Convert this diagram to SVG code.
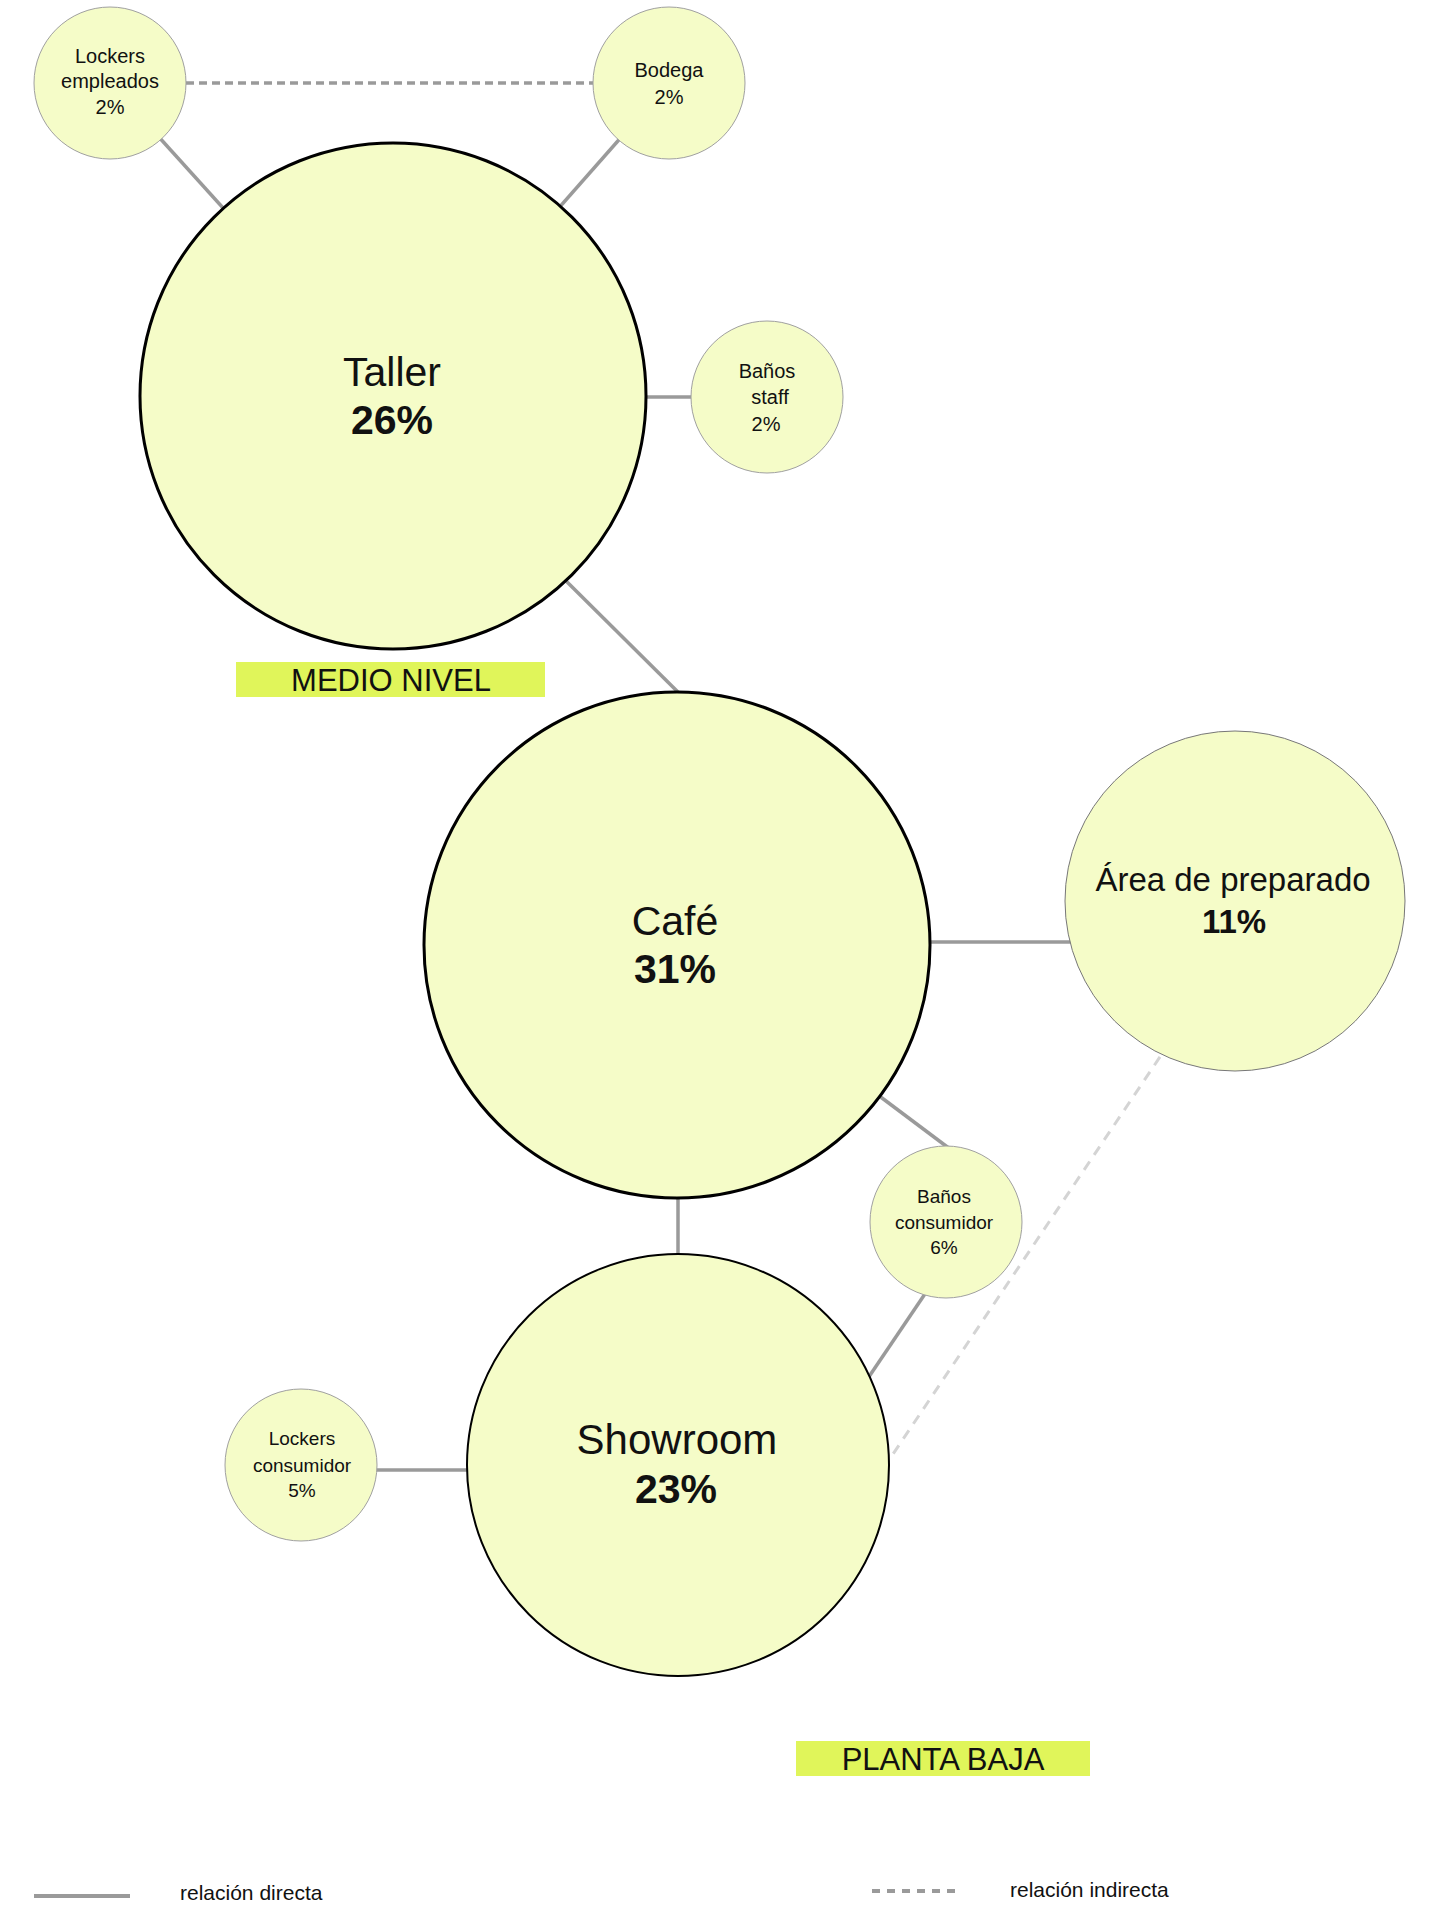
<svg xmlns="http://www.w3.org/2000/svg" width="1430" height="1910" viewBox="0 0 1430 1910">
<style>
.big{fill:#f5fcc8;stroke:#000;stroke-width:3}
.small{fill:#f5fcc8;stroke:#a0a0a0;stroke-width:1}
.mid{fill:#f5fcc8;stroke:#777;stroke-width:1}
.t{font-family:"Liberation Sans",Arial,sans-serif;fill:#111;text-anchor:middle}
.s{font-size:20px}
.tl{font-size:41px}
.tb{font-size:41px;font-weight:bold}
.d{stroke:#9a9a9a;stroke-width:3.5;fill:none}
.dash{stroke:#9a9a9a;stroke-width:3.5;stroke-dasharray:8 5;fill:none}
.dash2{stroke:#d4d4d4;stroke-width:3;stroke-dasharray:10 8;fill:none}
.lab{fill:#e0f55a}
.lt{font-family:"Liberation Sans",Arial,sans-serif;fill:#111;font-size:31px;text-anchor:middle}
.leg{font-family:"Liberation Sans",Arial,sans-serif;fill:#111;font-size:21px}
</style>
<rect width="1430" height="1910" fill="#fff"/>
<g id="connectors">
<line class="dash" x1="186" y1="83" x2="593" y2="83"/>
<line class="d" x1="110" y1="83" x2="393" y2="396"/>
<line class="d" x1="669" y1="83" x2="393" y2="396"/>
<line class="d" x1="600" y1="397" x2="720" y2="397"/>
<line class="d" x1="554" y1="569" x2="691" y2="705"/>
<line class="d" x1="900" y1="942" x2="1100" y2="942"/>
<line class="d" x1="866" y1="1086" x2="962" y2="1158"/>
<line class="d" x1="678" y1="1180" x2="678" y2="1270"/>
<line class="d" x1="931" y1="1285" x2="862" y2="1387"/>
<line class="d" x1="350" y1="1470" x2="490" y2="1470"/>
<line class="dash2" x1="1170" y1="1042" x2="885" y2="1466"/>
</g>
<g id="lockers-empleados">
<circle class="small" cx="110" cy="83" r="76"/>
<text class="t s" x="110" y="63">Lockers</text>
<text class="t s" x="110" y="88">empleados</text>
<text class="t s" x="110" y="114">2%</text>
</g>
<g id="bodega">
<circle class="small" cx="669" cy="83" r="76"/>
<text class="t s" x="669" y="77">Bodega</text>
<text class="t s" x="669" y="104">2%</text>
</g>
<g id="taller">
<circle class="big" cx="393" cy="396" r="253"/>
<text class="t tl" x="392" y="386">Taller</text>
<text class="t tb" x="392" y="434">26%</text>
</g>
<g id="banos-staff">
<circle class="small" cx="767" cy="397" r="76"/>
<text class="t s" x="767" y="378">Baños</text>
<text class="t s" x="770" y="404">staff</text>
<text class="t s" x="766" y="431">2%</text>
</g>
<g id="label-medio">
<rect class="lab" x="236" y="662" width="309" height="35"/>
<text class="lt" x="391" y="691">MEDIO NIVEL</text>
</g>
<g id="cafe">
<circle class="big" cx="677" cy="945" r="253"/>
<text class="t tl" x="675" y="935">Café</text>
<text class="t tb" x="675" y="983">31%</text>
</g>
<g id="area-preparado">
<circle class="mid" cx="1235" cy="901" r="170"/>
<text class="t" style="font-size:33px" x="1233" y="891">Área de preparado</text>
<text class="t" style="font-size:33px;font-weight:bold" x="1234" y="933">11%</text>
</g>
<g id="banos-consumidor">
<circle class="small" cx="946" cy="1222" r="76"/>
<text class="t" style="font-size:19px" x="944" y="1203">Baños</text>
<text class="t" style="font-size:19px" x="944" y="1229">consumidor</text>
<text class="t" style="font-size:19px" x="944" y="1254">6%</text>
</g>
<g id="showroom">
<circle class="big" cx="678" cy="1465" r="211" style="stroke-width:2"/>
<text class="t" style="font-size:42px" x="677" y="1454">Showroom</text>
<text class="t tb" x="676" y="1503">23%</text>
</g>
<g id="lockers-consumidor">
<circle class="small" cx="301" cy="1465" r="76"/>
<text class="t" style="font-size:19px" x="302" y="1445">Lockers</text>
<text class="t" style="font-size:19px" x="302" y="1472">consumidor</text>
<text class="t" style="font-size:19px" x="302" y="1497">5%</text>
</g>
<g id="label-planta">
<rect class="lab" x="796" y="1741" width="294" height="35"/>
<text class="lt" x="943" y="1770">PLANTA BAJA</text>
</g>
<g id="legend">
<line class="d" x1="34" y1="1896" x2="130" y2="1896" style="stroke-width:4"/>
<text class="leg" x="180" y="1900">relación directa</text>
<line class="dash" x1="872" y1="1891" x2="960" y2="1891" style="stroke-dasharray:8 7;stroke-width:4"/>
<text class="leg" x="1010" y="1897">relación indirecta</text>
</g>
</svg>
